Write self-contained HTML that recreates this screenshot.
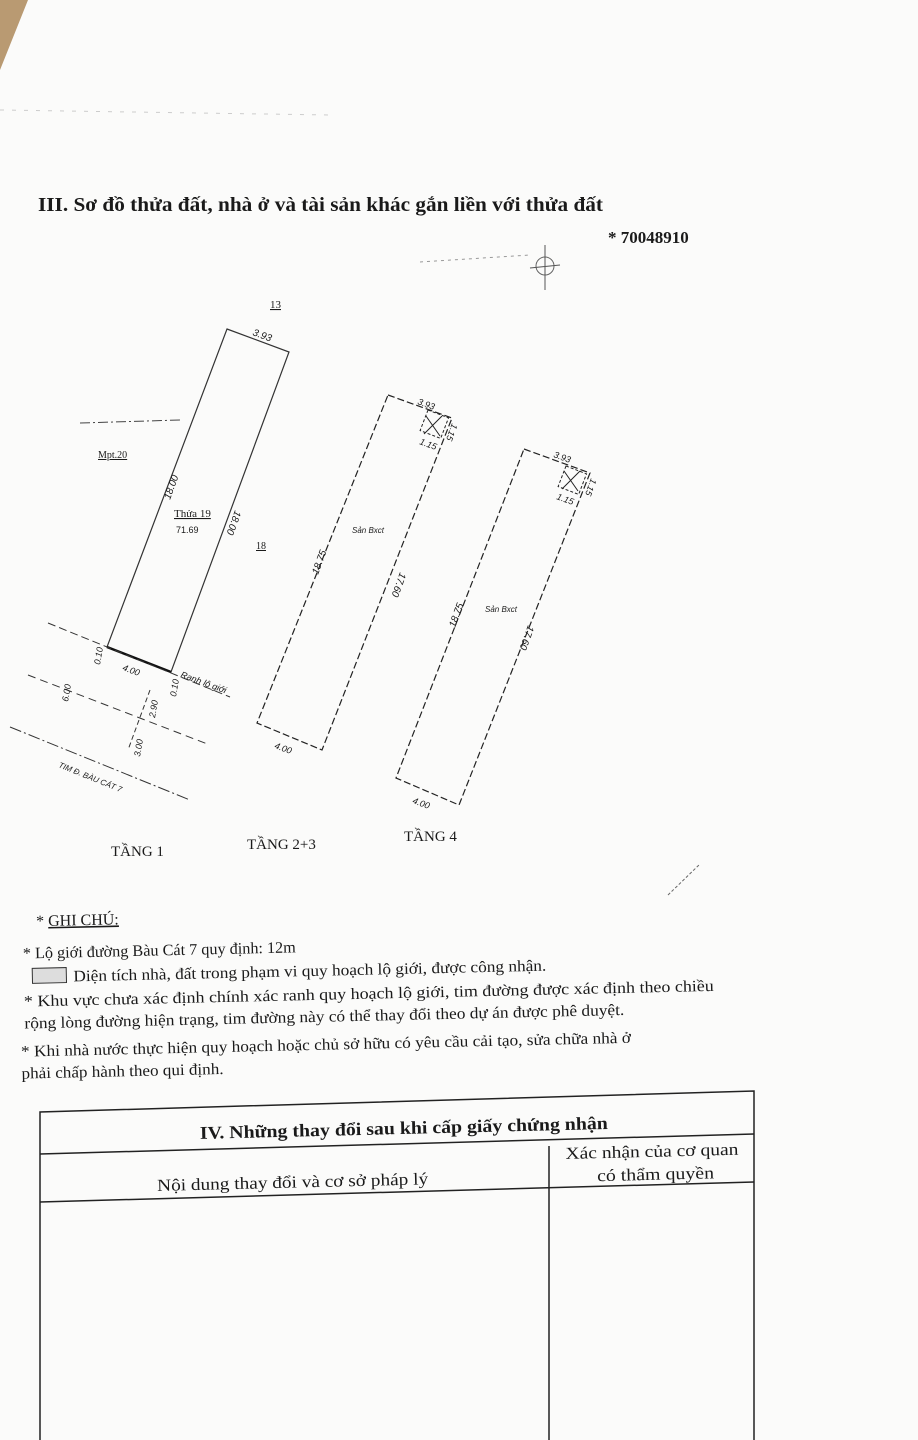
<!DOCTYPE html>
<html><head><meta charset="utf-8"><style>
html,body{margin:0;padding:0;background:#fff;}
svg{display:block}
text{font-family:"Liberation Serif","DejaVu Serif",serif;fill:#1a1a1a}
.s{font-family:"Liberation Sans","DejaVu Sans",sans-serif;font-style:italic}
</style></head><body>
<svg width="918" height="1440" viewBox="0 0 918 1440" xmlns="http://www.w3.org/2000/svg">
<rect width="918" height="1440" fill="#fbfbfa"/>
<polygon points="0,0 28,0 12,40 0,70" fill="#b99a72"/>
<line x1="0" y1="110" x2="330" y2="115" stroke="#ccc" stroke-dasharray="4 8"/>
<text x="38" y="211" font-size="20" font-weight="bold" textLength="565" lengthAdjust="spacingAndGlyphs">III. Sơ đồ thửa đất, nhà ở và tài sản khác gắn liền với thửa đất</text>
<text x="608" y="243" font-size="17" font-weight="bold">* 70048910</text>
<line x1="420" y1="262" x2="530" y2="255" stroke="#999" stroke-dasharray="3 4"/>
<circle cx="545" cy="266" r="9" fill="none" stroke="#666"/>
<line x1="545" y1="245" x2="545" y2="290" stroke="#555"/>
<line x1="530" y1="268" x2="560" y2="265" stroke="#555"/>
<text x="270" y="308" font-size="11" text-decoration="underline">13</text>
<!-- Tang 1 -->
<polygon points="227,329 289,352 171,672 107,647" fill="none" stroke="#333" stroke-width="1.2"/>
<line x1="107" y1="647" x2="171" y2="672" stroke="#111" stroke-width="2.5"/>
<line x1="80" y1="423" x2="180" y2="420" stroke="#444" stroke-dasharray="10 3 2 3"/>
<line x1="48" y1="623" x2="230" y2="697" stroke="#333" stroke-dasharray="8 4"/>
<line x1="28" y1="675" x2="210" y2="745" stroke="#333" stroke-dasharray="8 5"/>
<line x1="10" y1="727" x2="190" y2="800" stroke="#333" stroke-dasharray="12 3 2 3"/>
<line x1="150" y1="690" x2="128" y2="750" stroke="#333" stroke-dasharray="5 3"/>
<text x="98" y="458" font-size="10" text-decoration="underline">Mpt.20</text>
<text x="174" y="517" font-size="11" text-decoration="underline">Thửa 19</text>
<text x="176" y="533" font-size="9" class="s" style="font-style:normal">71.69</text>
<text x="256" y="549" font-size="10" text-decoration="underline">18</text>
<text x="252" y="335" font-size="10" class="s" transform="rotate(20 252 335)">3.93</text>
<text x="0" y="0" font-size="10" class="s" transform="translate(170,500) rotate(-70)">18.00</text>
<text x="0" y="0" font-size="10" class="s" transform="translate(235,510) rotate(110)">18.00</text>
<text x="122" y="670" font-size="9" class="s" transform="rotate(20 122 670)">4.00</text>
<text x="180" y="677" font-size="9" class="s" transform="rotate(20 180 677)">Ranh lộ giới</text>
<text x="0" y="0" font-size="9" class="s" transform="translate(100,665) rotate(-80)">0.10</text>
<text x="0" y="0" font-size="9" class="s" transform="translate(176,697) rotate(-80)">0.10</text>
<text x="0" y="0" font-size="9" class="s" transform="translate(155,718) rotate(-80)">2.90</text>
<text x="0" y="0" font-size="9" class="s" transform="translate(140,757) rotate(-80)">3.00</text>
<text x="0" y="0" font-size="9" class="s" transform="translate(68,702) rotate(-80)">6.00</text>
<text x="58" y="767" font-size="8" class="s" transform="rotate(22 58 767)">TIM Đ. BÀU CÁT 7</text>
<!-- Tang 2+3 -->
<polygon points="388,395 452,418 322,750 257,723" fill="none" stroke="#222" stroke-width="1.2" stroke-dasharray="7 3"/>
<rect x="0" y="0" width="22" height="22" fill="none" stroke="#222" stroke-dasharray="3 2" transform="translate(428,410) rotate(21)"/>
<line x1="424" y1="434" x2="442" y2="416" stroke="#222"/><line x1="426" y1="416" x2="440" y2="436" stroke="#222"/>
<text x="417" y="404" font-size="9" class="s" transform="rotate(20 417 404)">3.93</text>
<text x="419" y="444" font-size="9" class="s" transform="rotate(20 419 444)">1.15</text>
<text x="0" y="0" font-size="9" class="s" transform="translate(452,423) rotate(110)">1.15</text>
<text x="352" y="533" font-size="8" class="s">Sản Bxct</text>
<text x="0" y="0" font-size="10" class="s" transform="translate(318,575) rotate(-70)">18.75</text>
<text x="0" y="0" font-size="10" class="s" transform="translate(400,572) rotate(110)">17.60</text>
<text x="274" y="748" font-size="9" class="s" transform="rotate(20 274 748)">4.00</text>
<!-- Tang 4 -->
<polygon points="524,449 590,473 459,805 396,778" fill="none" stroke="#222" stroke-width="1.2" stroke-dasharray="7 3"/>
<rect x="0" y="0" width="22" height="22" fill="none" stroke="#222" stroke-dasharray="3 2" transform="translate(566,466) rotate(21)"/>
<line x1="562" y1="489" x2="580" y2="471" stroke="#222"/><line x1="564" y1="471" x2="578" y2="491" stroke="#222"/>
<text x="553" y="457" font-size="9" class="s" transform="rotate(20 553 457)">3.93</text>
<text x="556" y="499" font-size="9" class="s" transform="rotate(20 556 499)">1.15</text>
<text x="0" y="0" font-size="9" class="s" transform="translate(591,478) rotate(110)">1.15</text>
<text x="485" y="612" font-size="8" class="s">Sản Bxct</text>
<text x="0" y="0" font-size="10" class="s" transform="translate(455,628) rotate(-70)">18.75</text>
<text x="0" y="0" font-size="10" class="s" transform="translate(528,625) rotate(110)">17.60</text>
<text x="412" y="803" font-size="9" class="s" transform="rotate(20 412 803)">4.00</text>
<text x="111" y="856" font-size="15">TẦNG 1</text>
<text x="247" y="849" font-size="15">TẦNG 2+3</text>
<text x="404" y="841" font-size="15">TẦNG 4</text>
<line x1="668" y1="895" x2="700" y2="864" stroke="#666" stroke-dasharray="3 2"/>
<!-- notes -->
<g transform="rotate(-1.3 400 1000)">
<text x="38" y="918" font-size="16">* <tspan text-decoration="underline">GHI CHÚ:</tspan></text>
<text x="24" y="950" font-size="16" textLength="273" lengthAdjust="spacingAndGlyphs">* Lộ giới đường Bàu Cát 7 quy định: 12m</text>
<rect x="33" y="960" width="34" height="15" fill="#ddd" stroke="#333"/>
<text x="74" y="974" font-size="16" textLength="473" lengthAdjust="spacingAndGlyphs">Diện tích nhà, đất trong phạm vi quy hoạch lộ giới, được công nhận.</text>
<text x="24" y="998" font-size="16" textLength="690" lengthAdjust="spacingAndGlyphs">* Khu vực chưa xác định chính xác ranh quy hoạch lộ giới, tim đường được xác định theo chiều</text>
<text x="24" y="1020" font-size="16" textLength="600" lengthAdjust="spacingAndGlyphs">rộng lòng đường hiện trạng, tim đường này có thể thay đổi theo dự án được phê duyệt.</text>
<text x="20" y="1048" font-size="16" textLength="610" lengthAdjust="spacingAndGlyphs">* Khi nhà nước thực hiện quy hoạch hoặc chủ sở hữu có yêu cầu cải tạo, sửa chữa nhà ở</text>
<text x="20" y="1070" font-size="16" textLength="202" lengthAdjust="spacingAndGlyphs">phải chấp hành theo qui định.</text>
</g>
<!-- table -->
<g stroke="#222" stroke-width="1.5" fill="none">
<polyline points="40,1440 40,1112 754,1091 754,1440"/>
<line x1="40" y1="1154" x2="754" y2="1134"/>
<line x1="40" y1="1202" x2="754" y2="1182"/>
<line x1="549" y1="1146" x2="549" y2="1440"/>
</g>
<g transform="rotate(-1.4 400 1135)">
<text x="200" y="1134" font-size="18" font-weight="bold" textLength="408" lengthAdjust="spacingAndGlyphs">IV. Những thay đổi sau khi cấp giấy chứng nhận</text>
<text x="156" y="1185" font-size="17" textLength="271" lengthAdjust="spacingAndGlyphs">Nội dung thay đổi và cơ sở pháp lý</text>
<text x="565" y="1163" font-size="17" textLength="173" lengthAdjust="spacingAndGlyphs">Xác nhận của cơ quan</text>
<text x="596" y="1186" font-size="17" textLength="117" lengthAdjust="spacingAndGlyphs">có thẩm quyền</text>
</g>
</svg>
</body></html>
